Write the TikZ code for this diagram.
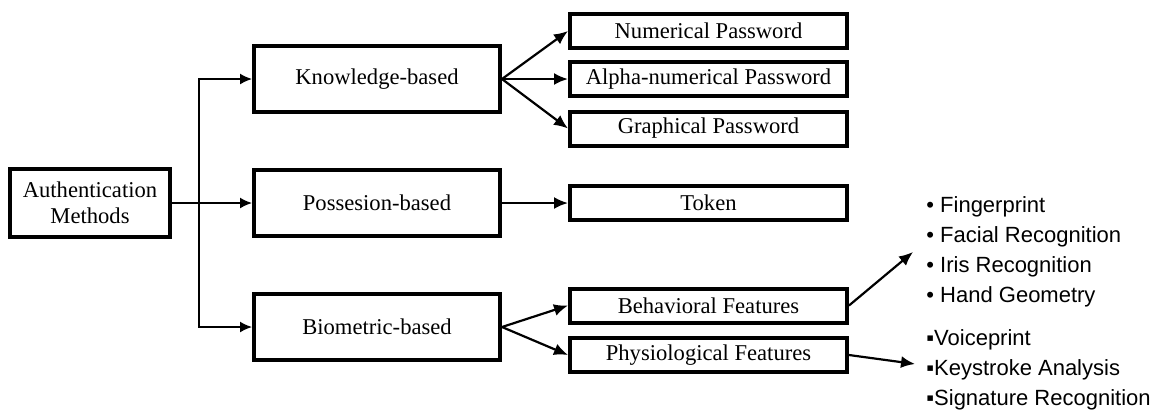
\documentclass[tikz,border=0pt]{standalone}
\usepackage{fontspec}
\setmainfont{Liberation Serif}
\newfontfamily\listfont{Liberation Sans}
\usepackage{tikz}
\usetikzlibrary{arrows.meta, positioning}

\begin{document}
\begin{tikzpicture}[x=0.5pt, y=-0.5pt,
        mainbox/.style={rectangle, draw, line width=2pt, minimum width=123pt, minimum height=33pt, font=\fontsize{11.3}{13}\selectfont},
        leafbox/.style={rectangle, draw, line width=2pt, minimum width=138.5pt, minimum height=17pt, inner sep=0pt, font=\fontsize{11.3}{13}\selectfont},
        conn/.style={line width=0.8pt, -{Latex[length=6pt, width=5.5pt]}},
        fan/.style={line width=1.1pt, -{Latex[length=7pt, width=6pt]}},
        itemlist/.style={align=left, inner sep=0pt, anchor=north west, font=\listfont\fontsize{11}{15}\selectfont}]
        \useasboundingbox (0, 0) rectangle (1171, 409);

        \node[rectangle, draw, line width=2pt, minimum width=80pt, minimum height=34pt, align=center, font=\fontsize{11.3}{13}\selectfont] (auth) at (90, 203) {Authentication\\Methods};

        \node[mainbox] (know) at (377, 79) {Knowledge-based};
        \node[mainbox] (poss) at (377, 203) {Possesion-based};
        \node[mainbox] (bio) at (377, 327) {Biometric-based};

        \node[leafbox] (num) at (708.5, 31) {Numerical Password};
        \node[leafbox] (alpha) at (708.5, 79) {Alpha-numerical Password};
        \node[leafbox] (graph) at (708.5, 128.5) {Graphical Password};
        \node[leafbox] (token) at (708.5, 203) {Token};
        \node[leafbox] (behav) at (708.5, 305.5) {Behavioral Features};
        \node[leafbox] (physio) at (708.5, 355) {Physiological Features};

        \node[itemlist] (physlist) at (926, 196) {%
            \textbullet\ Fingerprint\\
            \textbullet\ Facial Recognition\\
            \textbullet\ Iris Recognition\\
            \textbullet\ Hand Geometry};
        \node[itemlist] (behavlist) at (926, 329) {%
            ▪Voiceprint\\
            ▪Keystroke Analysis\\
            ▪Signature Recognition};

        \coordinate (jn) at (199, 203);
        \coordinate (physend) at (913, 252);
        \coordinate (behavend) at (915, 364);

        \draw[conn] (auth.east) to (poss.west);
        \draw[conn] (jn) |- (know.west);
        \draw[conn] (jn) |- (bio.west);

        \draw[fan] (know.east) to (num.west);
        \draw[fan] (know.east) to (alpha.west);
        \draw[fan] (know.east) to (graph.west);
        \draw[fan] (poss.east) to (token.west);
        \draw[fan] (bio.east) to (behav.west);
        \draw[fan] (bio.east) to (physio.west);
        \draw[fan] (behav.east) to (physend);
        \draw[fan] (physio.east) to (behavend);
    \end{tikzpicture}
\end{document}
